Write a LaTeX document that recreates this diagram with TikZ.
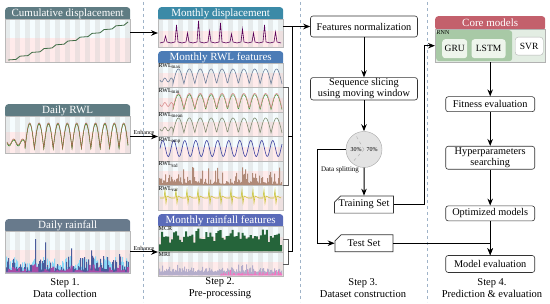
\documentclass[tikz,border=0pt]{standalone}
\usepackage{fontspec}
\setmainfont{Liberation Serif}
\usepackage{tikz}
\usetikzlibrary{shapes.misc, arrows.meta, positioning, calc}
\definecolor{hdrslate}{HTML}{5F7C83}
\definecolor{hdrrain}{HTML}{687A8C}
\definecolor{hdrdisp}{HTML}{3B8AA7}
\definecolor{hdrrwl}{HTML}{4C7CB6}
\definecolor{hdrmrain}{HTML}{5A6BB9}
\definecolor{hdrcore}{HTML}{C3606C}
\definecolor{corefill}{HTML}{E3EDE3}
\definecolor{rnngreen}{HTML}{A8C9A6}
\definecolor{cellgreen}{HTML}{EEF5EC}
\definecolor{sepblue}{HTML}{9FB3C8}
\definecolor{cumgreen}{HTML}{3F6B45}
\definecolor{rwlbrown}{HTML}{A0674A}
\definecolor{rainblue}{HTML}{4A5C9C}
\definecolor{mcrgreen}{HTML}{25643A}
\definecolor{mripurple}{HTML}{B4ADCB}
\definecolor{stdbrown}{HTML}{B08A78}
\definecolor{varyellow}{HTML}{C9C232}
\definecolor{wavemax}{HTML}{6C7F9A}
\definecolor{wavemin}{HTML}{D98C8C}
\definecolor{wavemean}{HTML}{7F8B70}
\definecolor{waveamp}{HTML}{3A3FA0}
\tikzset{
    hdr/.style={rectangle, rounded corners=3pt, text=white, anchor=north west, inner sep=0pt, minimum height=14pt, font=\fontsize{11}{12}\selectfont},
    bodybg/.style={rectangle, draw=gray!55, fill=cyan!4, inner sep=0pt, outer sep=0pt, anchor=north west,
        path picture={
            \fill[red!8] ([yshift=2pt]path picture bounding box.west) rectangle (path picture bounding box.south east);
            \foreach \k in {0,2,...,24} \fill[gray!40, opacity=0.35] ([xshift=\k*5pt]path picture bounding box.north west) rectangle ([xshift=\k*5pt+5pt]path picture bounding box.south west);
        }},
    box/.style={rectangle, draw=black!80, rounded corners=2.5pt, fill=white, align=center, inner sep=1pt, semithick, minimum width=89pt, font=\fontsize{10.3}{11}\selectfont},
    setbox/.style={chamfered rectangle, chamfered rectangle corners=north west, draw=black!80, fill=white, semithick, inner sep=1pt, minimum width=58pt, minimum height=17pt, font=\fontsize{10.3}{11}\selectfont},
    cell/.style={rectangle, rounded corners=3pt, inner sep=0pt, font=\fontsize{9.5}{10}\selectfont},
    tag/.style={inner sep=0.5pt, font=\fontsize{6}{6.5}\selectfont},
    enh/.style={inner sep=1pt, font=\fontsize{6}{6.5}\selectfont},
    steplbl/.style={align=center, font=\fontsize{10.5}{11.5}\selectfont},
    sep/.style={sepblue, dashed, thin},
    bracket/.style={black!65, thin},
    line/.style={line width=1pt},
    arrow/.style={-{Stealth[length=7pt, width=5.5pt]}, line width=1pt},
}
\begin{document}
\begin{tikzpicture}[x=1pt, y=-1pt, node distance=30pt]
    \useasboundingbox (0,0) rectangle (550,304);
    \foreach \sx in {143,300,427} \draw[sep] (\sx,2) -- (\sx,302);
    \pgfmathsetseed{11}

    % step 1
    \node[hdr, fill=hdrslate, minimum width=125pt] (cumhdr) at (5,7) {Cumulative displacement};
    \node[bodybg, minimum width=125pt, minimum height=43pt] (cumbody) at (5,19) {};
    \node[hdr, fill=hdrslate, minimum width=125pt] (rwldayhdr) at (5,104) {Daily RWL};
    \node[bodybg, minimum width=125pt, minimum height=37pt] (rwldaybody) at (5,116) {};
    \node[hdr, fill=hdrrain, minimum width=125pt] (raindayhdr) at (5,219) {Daily rainfall};
    \node[bodybg, minimum width=125pt, minimum height=42pt] (raindaybody) at (5,231) {};

    \draw[cumgreen, thick] (8,60) \foreach \k in {1,...,10} { -- ++(8,-0.6) -- ++(4,-3.2) };
    \draw[green!50!black, thin, yshift=-1pt] plot[domain=7:25, samples=30] (\x, {142+3*sin((\x-7)/9*360)}) -- plot[domain=25:128, samples=220] (\x, {148-25*abs(sin((\x-25)/9.4*180))});
    \draw[rwlbrown, semithick] plot[domain=7:25, samples=30] (\x, {142+3*sin((\x-7)/9*360)}) -- plot[domain=25:128, samples=220] (\x, {148-25*abs(sin((\x-25)/9.4*180))});
    \fill[cyan!45] (6,272.5) -- plot[const plot, domain=6:129, samples=124] (\x, {270-14*rnd}) -- (129,272.5) -- cycle;
    \fill[rainblue] (6,272.5) -- plot[const plot, domain=6:129, samples=124] (\x, {271-36*rnd*rnd*(0.25+0.75*abs(sin((\x-6)/11.5*180)))}) -- (129,272.5) -- cycle;
    \fill[violet!70] (6,272.5) -- plot[const plot, domain=6:129, samples=62] (\x, {272-10*rnd*rnd}) -- (129,272.5) -- cycle;

    % step 2
    \node[hdr, fill=hdrdisp, minimum width=125pt] (mdisphdr) at (158,7) {Monthly displacement};
    \node[bodybg, minimum width=125pt, minimum height=28pt] (mdispbody) at (158,19) {};
    \node[hdr, fill=hdrrwl, minimum width=125pt] (rwlmonhdr) at (158,51) {Monthly RWL features};
    \node[bodybg, minimum width=125pt, minimum height=24.5pt] (rwlmax) at (158,63) {};
    \node[bodybg, minimum width=125pt, minimum height=24.5pt] (rwlmin) at (158,87.5) {};
    \node[bodybg, minimum width=125pt, minimum height=24.5pt] (rwlmean) at (158,112) {};
    \node[bodybg, minimum width=125pt, minimum height=24.5pt] (rwlamp) at (158,136.5) {};
    \node[bodybg, minimum width=125pt, minimum height=24.5pt] (rwlstd) at (158,161) {};
    \node[bodybg, minimum width=125pt, minimum height=24.5pt] (rwlvar) at (158,185.5) {};
    \node[hdr, fill=hdrmrain, minimum width=125pt] (rainmonhdr) at (158,214) {Monthly rainfall features};
    \node[bodybg, minimum width=125pt, minimum height=26pt] (mcr) at (158,226) {};
    \node[bodybg, minimum width=125pt, minimum height=24pt] (mri) at (158,252) {};

    \draw[violet!70!black, semithick] (160,43) \foreach \h in {6,17,9,21,11,19,8,13,9,17,10} { -- ++(4,-1) -- ++(1.5,-\h) -- ++(1.5,\h) -- ++(4,1) };
    \draw[green!55!black, thin, yshift=-1.2pt] plot[domain=173:282, samples=200] (\x, {87.5+21-15*abs(sin((\x-173)/10.9*180))});
    \foreach \top/\clr in {63/wavemax, 87.5/wavemin, 112/wavemean}
        \draw[\clr, semithick] plot[domain=160:173, samples=20] (\x, {\top+17+2*sin((\x-160)/6.5*360)}) -- plot[domain=173:282, samples=200] (\x, {\top+21-15*abs(sin((\x-173)/10.9*180))});
    \draw[waveamp, semithick] plot[domain=160:282, samples=220] (\x, {148.5-8*sin((\x-160)/11*360)});
    \fill[stdbrown] (159,185) -- plot[const plot, domain=159:282, samples=124] (\x, {184-18*rnd*rnd}) -- (282,185) -- cycle;
    \draw[varyellow, semithick] (160,198) \foreach \k in {1,...,11} { -- ++(4,0) -- ++(1,-8) -- ++(1,13) -- ++(1,-7) -- ++(4,2) };
    \fill[mcrgreen] (159,251.5) -- plot[const plot, domain=159:282, samples=62] (\x, {247-11*rnd-8*abs(sin((\x-159)/11*180))}) -- (282,251.5) -- cycle;
    \fill[mripurple] (159,275.5) -- plot[const plot, domain=159:282, samples=124] (\x, {272-9*rnd*rnd}) -- (282,275.5) -- cycle;
    \fill[magenta!55] (220,275.5) -- plot[const plot, domain=220:282, samples=62] (\x, {275-10*rnd*rnd*rnd}) -- (282,275.5) -- cycle;

    \node[tag, anchor=north west] (tmax) at (rwlmax.north west) {RWL\textsubscript{max}};
    \node[tag, anchor=north west] (tmin) at (rwlmin.north west) {RWL\textsubscript{min}};
    \node[tag, anchor=north west] (tmean) at (rwlmean.north west) {RWL\textsubscript{mean}};
    \node[tag, anchor=north west] (tamp) at (rwlamp.north west) {RWL\textsubscript{amp}};
    \node[tag, anchor=north west] (tstd) at (rwlstd.north west) {RWL\textsubscript{std}};
    \node[tag, anchor=north west] (tvar) at (rwlvar.north west) {RWL\textsubscript{var}};
    \node[tag, anchor=north west] (tmcr) at (mcr.north west) {MCR};
    \node[tag, anchor=north west] (tmri) at (mri.north west) {MRI};

    \node[steplbl] (step1) at (65,288) {Step 1.\\Data collection};
    \node[steplbl] (step2) at (220,288) {Step 2.\\Pre-processing};

    % step 3
    \node[box, minimum width=107pt, minimum height=21pt] (norm) at (364,26.5) {Features normalization};
    \node[box, minimum width=107pt, minimum height=21pt, below=40pt of norm] (slice) {Sequence slicing\\using moving window};
    \node[circle, draw=gray!70, fill=gray!22, minimum size=36pt, inner sep=0pt, below=31pt of slice] (pie) {};
    \draw[gray!65, dashed] (pie.center) -- (pie.120);
    \draw[gray!65, dashed] (pie.center) -- (pie.228);
    \node[tag] (pct30) at ([xshift=-8pt]pie.center) {30\%};
    \node[tag] (pct70) at ([xshift=8pt]pie.center) {70\%};
    \node[setbox, below=28pt of pie] (train) {Training Set};
    \node[setbox, below=21pt of train] (test) {Test Set};
    \node[enh, font=\fontsize{7}{7.5}\selectfont] (split) at (340,170) {Data splitting};
    \node[steplbl] (step3) at (363,288) {Step 3.\\Dataset construction};

    % step 4
    \node[hdr, fill=hdrcore, minimum width=110pt] (corehdr) at (435,16) {Core models};
    \node[rectangle, draw=gray!60, fill=corefill, minimum width=110pt, minimum height=33pt, anchor=north west, inner sep=0pt] (corebody) at (435,29) {};
    \node[cell, fill=rnngreen, minimum width=76pt, minimum height=31pt, anchor=north west] (rnn) at (436,30) {};
    \node[tag, anchor=north west] (rnntag) at (rnn.north west) {RNN};
    \node[cell, fill=cellgreen, minimum width=25pt, minimum height=19pt, anchor=north west] (gru) at (442,39) {GRU};
    \node[cell, fill=cellgreen, minimum width=34pt, minimum height=19pt, right=4pt of gru] (lstm) {LSTM};
    \node[cell, fill=white, draw=gray!60, minimum width=28pt, minimum height=18pt, anchor=north west] (svr) at (515,37) {SVR};
    \node[box, minimum height=15pt, below=34pt of corebody] (fit) {Fitness evaluation};
    \node[box, minimum height=23pt, below=34pt of fit] (hyper) {Hyperparameters\\searching};
    \node[box, minimum height=15pt, below=36pt of hyper] (optim) {Optimized models};
    \node[box, minimum height=17pt, below=34pt of optim] (evalm) {Model evaluation};
    \node[steplbl] (step4) at (492,288) {Step 4.\\Prediction \& evaluation};

    % connectors
    \coordinate (bus) at (292,26.5);
    \coordinate (rwlbr) at (288,136.5);
    \coordinate (rainbr) at (288,251.5);
    \draw[arrow] (cumbody.east |- mdispbody.west) -- (mdispbody.west);
    \draw[arrow] (rwldaybody.east |- rwlamp.north west) -- node[enh, above] (enh1) {Enhance} (rwlamp.north west);
    \draw[arrow] (raindaybody.east |- mri.north west) -- node[enh, above] (enh2) {Enhance} (mri.north west);
    \draw[bracket] (rwlmin.north east) -- ++(5,0) |- (rwlstd.south east);
    \draw[bracket] (mcr.east) -- ++(5,0) |- (mri.east);
    \draw[line] (rwlbr) -- (rwlbr -| bus);
    \draw[line] (rainbr) -- (rainbr -| bus) -- (bus);
    \draw[arrow] (mdispbody.east |- norm.west) -- (norm.west);
    \draw[arrow] (norm) -- (slice);
    \draw[arrow] (slice) -- (pie);
    \draw[arrow] (pie) -- (train);
    \draw[arrow] (pie.west) -- ++(-28,0) |- (test.west);
    \draw[arrow] (train.east) -| ([xshift=-11pt]corebody.west) -- (corebody.west);
    \draw[arrow] (test.east) -| (evalm.north);
    \draw[arrow] (corebody) -- (fit);
    \draw[arrow] (fit) -- (hyper);
    \draw[arrow] (hyper) -- (optim);
    \draw[arrow] (optim) -- (evalm);
\end{tikzpicture}
\end{document}
